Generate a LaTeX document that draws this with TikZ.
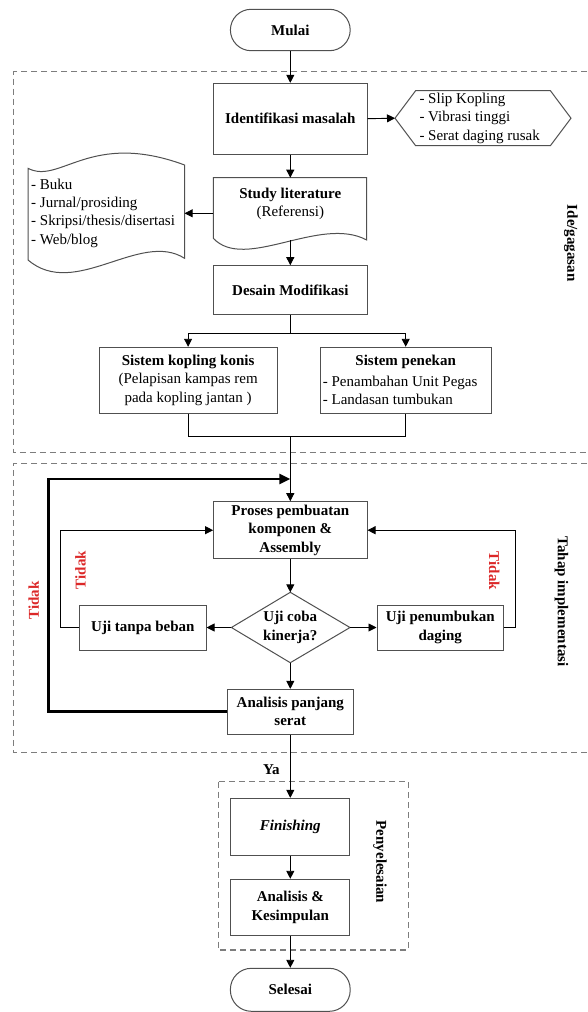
\documentclass[tikz,border=0pt]{standalone}
\usepackage{fontspec}
\setmainfont{Liberation Serif}
\usetikzlibrary{arrows.meta}
\definecolor{boxgray}{RGB}{80,80,80}
\definecolor{dashgray}{RGB}{125,125,125}
\definecolor{tred}{RGB}{220,40,40}
\newcommand\fsz{\fontsize{15}{18.3}\selectfont}
\begin{document}
\begin{tikzpicture}[x=1pt,y=-1pt,
 box/.style={draw=boxgray,line width=1pt,fill=white,align=center,inner sep=0pt,font=\fsz\bfseries},
 shp/.style={draw=boxgray,line width=1pt,fill=white},
 txt/.style={inner sep=0pt,font=\fsz,align=left},
 ln/.style={line width=0.9pt,draw=black},
 arr/.style={ln,-{Triangle[length=8pt,width=8pt]}},
 thk/.style={line width=2.5pt,-{Triangle[length=11pt,width=10pt]}},
 grp/.style={draw=dashgray,line width=1.1pt,dash pattern=on 6pt off 4pt},
 lbl/.style={inner sep=0pt,font=\fsz\bfseries},
 redlbl/.style={lbl,text=tred}]
\fill[white] (0,0) rectangle (587,1012);
\useasboundingbox (0,0) rectangle (587,1012);

% group frames
\draw[grp] (587,71.7) -- (13.9,71.7) -- (13.9,452.7) -- (587,452.7);
\draw[grp] (587,463.3) -- (13.9,463.3) -- (13.9,752.7) -- (587,752.7);
\draw[grp] (218.3,781.7) rectangle (408.1,950);

% terminals and boxes
\node[box,rounded corners=20.7pt,minimum width=119.8pt,minimum height=41.4pt] (mulai) at (290.3,30) {Mulai};
\node[box,minimum width=153.4pt,minimum height=70.7pt] (ident) at (290.3,118.7) {Identifikasi masalah};

% hexagon
\coordinate (hexL) at (395,118.2);
\draw[shp] (hexL) -- (415.6,90.7) -- (550.4,90.7) -- (571,118.2) -- (550.4,145.7) -- (415.6,145.7) -- cycle;
\node[txt,anchor=west] (hextxt) at (419.3,118.2) {- Slip Kopling\\- Vibrasi tinggi\\- Serat daging rusak};

% study literature (document shape)
\coordinate (studyT) at (290.3,177.7);
\coordinate (studyL) at (213.3,213.3);
\coordinate (studyB) at (290.3,240.3);
\draw[shp] (213.3,238.3) -- (213.3,177.7) -- (366.7,177.7) -- (366.7,240)
  .. controls (320,215) and (245,272) .. (213.3,238.3) -- cycle;
\node[txt,align=center] (study) at (290.3,204.2) {\textbf{Study literature}\\(Referensi)};

% tape shape with references
\coordinate (tapeR) at (184.6,213.3);
\draw[shp] (28,168.3) .. controls (60,185) and (90,130) .. (184.6,165) -- (184.6,258.3)
  .. controls (140,230) and (75,300) .. (28,260) -- cycle;
\node[txt,anchor=west] (tapetxt) at (31,213) {- Buku\\- Jurnal/prosiding\\- Skripsi/thesis/disertasi\\- Web/blog};

\node[box,minimum width=153.4pt,minimum height=48.6pt] (desain) at (290.3,290) {Desain Modifikasi};

\node[box,minimum width=177.8pt,minimum height=66pt] (kop) at (188.1,380.3)
  {Sistem kopling konis\\\mdseries(Pelapisan kampas rem\\\mdseries pada kopling jantan )};
\node[box,minimum width=171.1pt,minimum height=66pt] (pen) at (405.7,380.3) {};
\node[lbl] (pentitle) at (405.7,362.3) {Sistem penekan};
\node[txt,anchor=west] (pentxt) at (322.7,390.6) {- Penambahan Unit Pegas\\- Landasan tumbukan};

\node[box,minimum width=153.4pt,minimum height=57pt] (proses) at (290.3,530.2) {Proses pembuatan\\komponen \&\\Assembly};

% decision diamond
\coordinate (dT) at (290.3,592.3);
\coordinate (dB) at (290.3,662.7);
\coordinate (dL) at (231.4,627.5);
\coordinate (dR) at (350,627.5);
\draw[shp] (dT) -- (dR) -- (dB) -- (dL) -- cycle;
\node[lbl,align=center] (dec) at (290.3,627.5) {Uji coba\\kinerja?};

\node[box,minimum width=126.3pt,minimum height=45pt] (ujit) at (142.9,627.5) {Uji tanpa beban};
\node[box,minimum width=126.6pt,minimum height=45pt] (ujip) at (440.3,627.5) {Uji penumbukan\\daging};
\node[box,minimum width=126.5pt,minimum height=44.7pt] (anal) at (290.3,711.7) {Analisis panjang\\serat};

\node[box,minimum width=119pt,minimum height=56.7pt] (fin) at (290.3,826.7) {\itshape Finishing};
\node[box,minimum width=119pt,minimum height=56.4pt] (kes) at (290.3,907.5) {Analisis \&\\Kesimpulan};
\node[box,rounded corners=21pt,minimum width=119.8pt,minimum height=43pt] (selesai) at (290.3,989.8) {Selesai};

% connectors
\draw[arr] (mulai.south) -- (ident.north);
\draw[arr] (ident.east) -- (hexL);
\draw[arr] (ident.south) -- (studyT);
\draw[arr] (studyL) -- (tapeR);
\draw[arr] (studyB) -- (desain.north);
\draw[ln] (desain.south) -- ++(0,18.4) coordinate (brc);
\draw[arr] (brc) -| (kop.north);
\draw[arr] (brc) -| (pen.north);
\coordinate (mrg) at (290.3,436.7);
\draw[ln] (kop.south) |- (mrg) -| (pen.south);
\draw[arr] (mrg) -- (proses.north);
\draw[arr] (proses.south) -- (dT);
\draw[arr] (dL) -- (ujit.east);
\draw[arr] (dR) -- (ujip.west);
\draw[arr] (ujit.west) -- ++(-18.7,0) |- (proses.west);
\draw[arr] (ujip.east) -- ++(11.2,0) |- (proses.east);
\draw[arr] (dB) -- (anal.north);
\coordinate (fb) at (48.7,479);
\coordinate (fbEnd) at (290.3,479);
\draw[thk] (anal.west) -| (fb) -- (fbEnd);
\draw[arr] (anal.south) -- (fin.north);
\draw[arr] (fin.south) -- (kes.north);
\draw[arr] (kes.south) -- (selesai.north);

% labels
\node[lbl] (ya) at (271.4,770) {Ya};
\node[redlbl,rotate=90] (tidak1) at (80.5,570) {Tidak};
\node[redlbl,rotate=90] (tidak2) at (33.7,600.5) {Tidak};
\node[redlbl,rotate=-90] (tidak3) at (494.2,571) {Tidak};
\node[lbl,rotate=-90] (ide) at (571,243.3) {Ide/gagasan};
\node[lbl,rotate=-90] (tahap) at (561.6,601.7) {Tahap implementasi};
\node[lbl,rotate=-90] (peny) at (380,862) {Penyelesaian};
\end{tikzpicture}
\end{document}
